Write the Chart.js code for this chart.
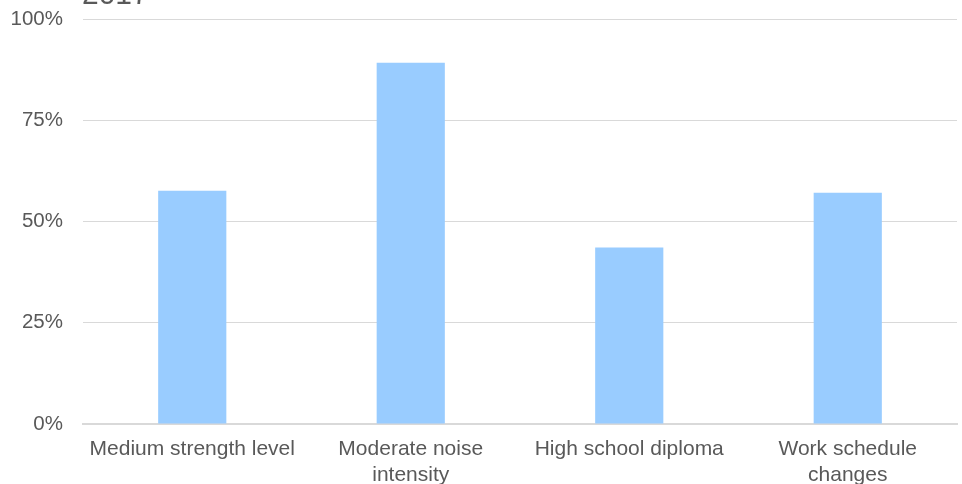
<!DOCTYPE html>
<html>
<head>
<meta charset="utf-8">
<script src="https://cdn.jsdelivr.net/npm/chart.js@4/dist/chart.umd.min.js"></script>
<style>
html,body{margin:0;padding:0;background:#fff;}
#wrap{width:962px;height:484px;position:relative;}
</style>
</head>
<body>
<div id="wrap"><canvas id="c" width="962" height="484"></canvas></div>
<script>
const titleText = '2017';
const categories = [
  ['Medium strength level'],
  ['Moderate noise', 'intensity'],
  ['High school diploma'],
  ['Work schedule', 'changes']
];
const values = [57.6, 89.2, 43.6, 57.1];
const yTicks = [0, 25, 50, 75, 100];

const font = "'Liberation Sans', Arial, sans-serif";

const titlePlugin = {
  id: 'cutTitle',
  afterDraw(chart) {
    const ctx = chart.ctx;
    ctx.save();
    ctx.fillStyle = '#595959';
    ctx.font = '30px ' + font;
    ctx.textBaseline = 'alphabetic';
    ctx.textAlign = 'left';
    ctx.fillText(titleText, 82, 4);
    ctx.restore();
  }
};

new Chart(document.getElementById('c'), {
  type: 'bar',
  data: {
    labels: categories,
    datasets: [{
      data: values,
      backgroundColor: '#99ccff',
      borderWidth: 0,
      categoryPercentage: 1.0,
      barPercentage: 0.312
    }]
  },
  options: {
    responsive: false,
    animation: false,
    devicePixelRatio: 1,
    layout: { padding: { top: 19, right: 5, left: 0, bottom: 0 } },
    plugins: { legend: { display: false }, tooltip: { enabled: false } },
    scales: {
      x: {
        grid: { display: false, drawTicks: false },
        border: { display: true, color: '#d9d9d9', width: 2 },
        ticks: {
          color: '#595959',
          font: { family: font, size: 21 },
          padding: 13,
          maxRotation: 0,
          autoSkip: false
        },
        afterFit(scale) { scale.height = 60; scale.paddingLeft = 0; scale.paddingRight = 0; }
      },
      y: {
        min: 0,
        max: 100,
        afterBuildTicks(scale) { scale.ticks = yTicks.map(v => ({ value: v })); },
        grid: { color: '#d9d9d9', lineWidth: 1, drawTicks: false },
        border: { display: false },
        ticks: {
          color: '#595959',
          font: { family: font, size: 20.5 },
          padding: 20,
          callback: v => v + '%'
        },
        afterFit(scale) { scale.width = 83; scale.paddingTop = 0; scale.paddingBottom = 0; }
      }
    }
  },
  plugins: [titlePlugin]
});
</script>
</body>
</html>
